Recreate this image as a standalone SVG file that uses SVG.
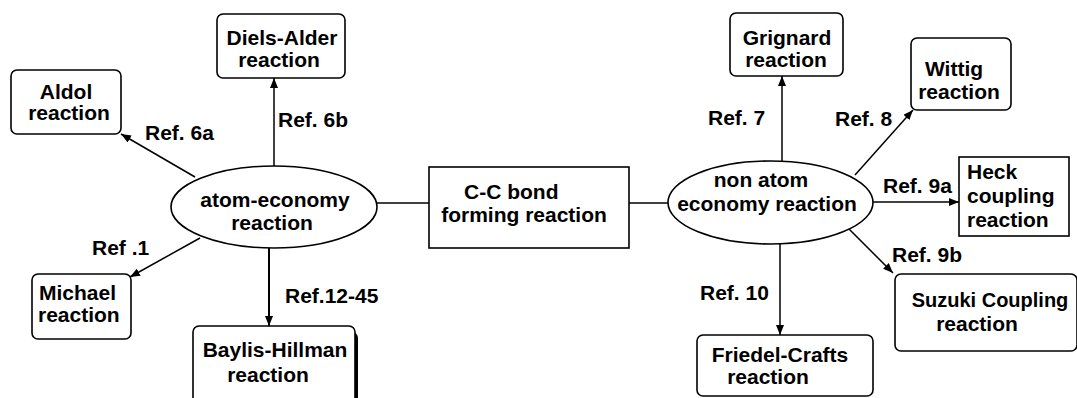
<svg xmlns="http://www.w3.org/2000/svg" width="1077" height="398" viewBox="0 0 1077 398">
<style>
text{font-family:"Liberation Sans",Arial,sans-serif;font-weight:bold;font-size:21px;fill:#000}
.box{fill:#fff;stroke:#000;stroke-width:1.6}
.ell{fill:#fff;stroke:#000;stroke-width:1.6}
.c{stroke:#000;stroke-width:1.5;fill:none}
.m{text-anchor:middle}
</style>
<defs>
<marker id="ah" markerUnits="userSpaceOnUse" markerWidth="10" markerHeight="8" refX="10" refY="4" orient="auto">
<path d="M0,0 L10,4 L0,8 z" fill="#000"/>
</marker>
</defs>
<rect width="1077" height="398" fill="#fff"/>
<g id="connectors">
<line class="c" x1="195" y1="177" x2="121" y2="134" marker-end="url(#ah)"/>
<line class="c" x1="274" y1="166" x2="274" y2="78" marker-end="url(#ah)"/>
<line class="c" x1="200" y1="238" x2="130" y2="277" marker-end="url(#ah)"/>
<line class="c" x1="269" y1="248" x2="269" y2="326" style="stroke-width:2" marker-end="url(#ah)"/>
<line class="c" x1="377" y1="203" x2="431" y2="203"/>
<line class="c" x1="627" y1="203" x2="668" y2="203"/>
<line class="c" x1="782" y1="161" x2="782" y2="76" marker-end="url(#ah)"/>
<line class="c" x1="855" y1="175" x2="913" y2="110" marker-end="url(#ah)"/>
<line class="c" x1="873" y1="202" x2="959" y2="202" marker-end="url(#ah)"/>
<line class="c" x1="848" y1="228" x2="893" y2="273" marker-end="url(#ah)"/>
<line class="c" x1="780" y1="244" x2="780" y2="335" marker-end="url(#ah)"/>
<text x="145" y="140">Ref. 6a</text>
<text x="278" y="127">Ref. 6b</text>
<text x="92" y="255">Ref .1</text>
<text x="285" y="303">Ref.12-45</text>
<text x="708" y="125">Ref. 7</text>
<text x="835" y="126">Ref. 8</text>
<text x="883" y="193">Ref. 9a</text>
<text x="892" y="262">Ref. 9b</text>
<text x="700" y="300">Ref. 10</text>
</g>
<g id="aldol">
<rect class="box" x="11" y="70" width="110" height="64" rx="6"/>
<text class="m" x="66" y="99">Aldol</text>
<text class="m" x="69" y="120">reaction</text>
</g>
<g id="diels-alder">
<rect class="box" x="217" y="14" width="128" height="64" rx="6"/>
<text class="m" x="282" y="45">Diels-Alder</text>
<text class="m" x="279" y="67">reaction</text>
</g>
<g id="atom-economy">
<ellipse class="ell" cx="274" cy="207" rx="103" ry="41"/>
<text class="m" x="275" y="207">atom-economy</text>
<text class="m" x="272" y="230">reaction</text>
</g>
<g id="michael">
<rect class="box" x="32" y="274" width="99" height="65" rx="6"/>
<text x="39" y="300">Michael</text>
<text x="38" y="322">reaction</text>
</g>
<g id="baylis-hillman">
<rect x="199" y="332" width="159" height="80" rx="6" fill="#000"/>
<rect class="box" x="193" y="326" width="162" height="85" rx="6"/>
<text class="m" x="275" y="357">Baylis-Hillman</text>
<text class="m" x="268" y="382">reaction</text>
</g>
<g id="cc-bond">
<rect class="box" x="429" y="167" width="200" height="81"/>
<text x="464" y="199">C-C bond</text>
<text class="m" x="524" y="222">forming reaction</text>
</g>
<g id="non-atom-economy">
<ellipse class="ell" cx="770.5" cy="202.5" rx="102.5" ry="41.5"/>
<text class="m" x="761" y="187">non atom</text>
<text class="m" x="767" y="211">economy reaction</text>
</g>
<g id="grignard">
<rect class="box" x="730" y="13" width="113" height="63" rx="6"/>
<text class="m" x="787" y="45">Grignard</text>
<text class="m" x="786" y="67">reaction</text>
</g>
<g id="wittig">
<rect class="box" x="911" y="38" width="100" height="72" rx="6"/>
<text class="m" x="954" y="76">Wittig</text>
<text class="m" x="959" y="99">reaction</text>
</g>
<g id="heck">
<rect class="box" x="959" y="157" width="110" height="79"/>
<text x="967" y="179">Heck</text>
<text x="967" y="203">coupling</text>
<text x="967" y="227">reaction</text>
</g>
<g id="suzuki">
<rect class="box" x="895" y="274" width="182" height="77" rx="6"/>
<text class="m" x="990" y="307" style="font-size:20px">Suzuki Coupling</text>
<text class="m" x="977" y="331">reaction</text>
</g>
<g id="friedel-crafts">
<rect class="box" x="697" y="335" width="176" height="61" rx="6"/>
<text class="m" x="780" y="362">Friedel-Crafts</text>
<text class="m" x="768" y="384">reaction</text>
</g>
</svg>
